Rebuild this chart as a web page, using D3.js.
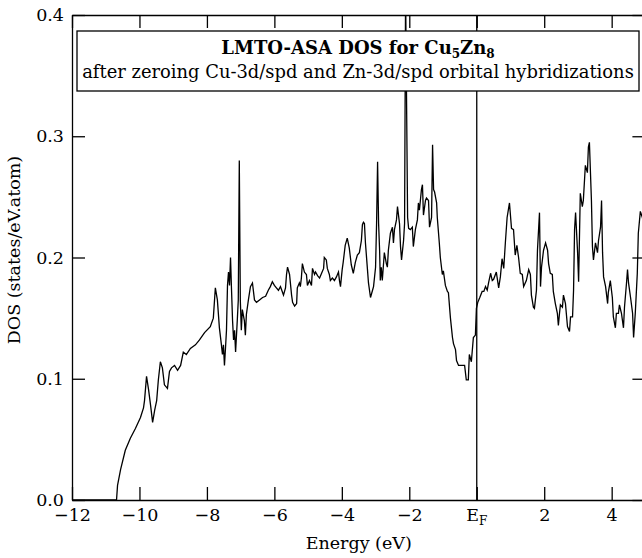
<!DOCTYPE html>
<html>
<head>
<meta charset="utf-8">
<script src="https://cdn.jsdelivr.net/npm/d3@7"></script>
<style>
  body { margin: 0; background: #fff; }
  text { font-family: "DejaVu Serif", "Liberation Serif", serif; }
</style>
</head>
<body>
<div id="chart-area"></div>
<script>
// energy (eV) and DOS (states/eV.atom)
var energy = [-12.0, -10.68, -10.65, -10.56, -10.42, -10.27, -10.12, -9.97, -9.88, -9.85,
  -9.79, -9.73, -9.67, -9.61, -9.55, -9.49, -9.44, -9.38, -9.32, -9.26,
  -9.17, -9.11, -9.05, -8.96, -8.87, -8.78, -8.70, -8.61, -8.49, -8.34,
  -8.22, -8.07, -7.90, -7.81, -7.75, -7.69, -7.63, -7.57, -7.54, -7.51,
  -7.48, -7.45, -7.42, -7.39, -7.36, -7.33, -7.30, -7.27, -7.24, -7.21,
  -7.18, -7.15, -7.10, -7.07, -7.04, -7.01, -6.98, -6.95, -6.89, -6.86,
  -6.83, -6.77, -6.71, -6.65, -6.59, -6.53, -6.44, -6.35, -6.26, -6.18,
  -6.12, -6.06, -6.00, -5.94, -5.88, -5.82, -5.73, -5.67, -5.64, -5.61,
  -5.55, -5.49, -5.46, -5.40, -5.34, -5.32, -5.26, -5.23, -5.20, -5.17,
  -5.11, -5.05, -5.02, -4.96, -4.90, -4.87, -4.81, -4.78, -4.72, -4.66,
  -4.60, -4.54, -4.52, -4.46, -4.43, -4.37, -4.34, -4.28, -4.22, -4.16,
  -4.10, -4.07, -4.04, -3.99, -3.96, -3.90, -3.84, -3.78, -3.72, -3.66,
  -3.60, -3.54, -3.48, -3.42, -3.39, -3.36, -3.33, -3.30, -3.24, -3.21,
  -3.15, -3.09, -3.06, -3.00, -2.97, -2.94, -2.91, -2.88, -2.86, -2.83,
  -2.80, -2.74, -2.68, -2.65, -2.62, -2.56, -2.50, -2.47, -2.44, -2.38,
  -2.35, -2.29, -2.26, -2.23, -2.17, -2.14, -2.11, -2.05, -2.02, -1.97,
  -1.91, -1.88, -1.82, -1.76, -1.73, -1.70, -1.64, -1.61, -1.58, -1.52,
  -1.49, -1.43, -1.40, -1.34, -1.31, -1.28, -1.25, -1.19, -1.17, -1.11,
  -1.08, -1.02, -0.99, -0.93, -0.87, -0.84, -0.78, -0.72, -0.69, -0.63,
  -0.60, -0.54, -0.45, -0.36, -0.31, -0.25, -0.22, -0.16, -0.10, -0.04,
  -0.01, 0.03, 0.09, 0.16, 0.21, 0.26, 0.31, 0.35, 0.41, 0.46,
  0.50, 0.58, 0.65, 0.70, 0.75, 0.80, 0.85, 0.90, 0.97, 1.03,
  1.09, 1.14, 1.19, 1.24, 1.29, 1.35, 1.39, 1.47, 1.54, 1.59,
  1.62, 1.68, 1.71, 1.77, 1.80, 1.86, 1.89, 1.92, 1.98, 2.01,
  2.04, 2.10, 2.13, 2.18, 2.24, 2.27, 2.33, 2.39, 2.42, 2.45,
  2.48, 2.54, 2.57, 2.63, 2.69, 2.75, 2.78, 2.84, 2.87, 2.90,
  2.93, 2.99, 3.02, 3.07, 3.13, 3.16, 3.22, 3.28, 3.31, 3.34,
  3.40, 3.43, 3.46, 3.52, 3.58, 3.61, 3.67, 3.70, 3.73, 3.76,
  3.82, 3.88, 3.90, 3.96, 4.02, 4.05, 4.11, 4.14, 4.20, 4.23,
  4.29, 4.35, 4.38, 4.44, 4.47, 4.50, 4.56, 4.62, 4.65, 4.70,
  4.76, 4.79, 4.85, 4.91, 5.0];

var dos = [0, 0, 0.012, 0.025, 0.041, 0.051, 0.059, 0.068, 0.076, 0.082,
  0.102, 0.091, 0.078, 0.064, 0.074, 0.082, 0.099, 0.114, 0.109, 0.095,
  0.092, 0.106, 0.109, 0.111, 0.107, 0.111, 0.122, 0.120, 0.125, 0.128,
  0.132, 0.138, 0.143, 0.150, 0.175, 0.165, 0.142, 0.128, 0.120, 0.128,
  0.111, 0.125, 0.140, 0.177, 0.188, 0.177, 0.200, 0.173, 0.148, 0.132,
  0.140, 0.122, 0.148, 0.165, 0.280, 0.165, 0.140, 0.157, 0.148, 0.136,
  0.153, 0.165, 0.176, 0.179, 0.165, 0.163, 0.165, 0.167, 0.168, 0.173,
  0.176, 0.180, 0.177, 0.175, 0.173, 0.176, 0.169, 0.175, 0.186, 0.192,
  0.186, 0.169, 0.163, 0.160, 0.162, 0.175, 0.179, 0.176, 0.183, 0.195,
  0.188, 0.186, 0.177, 0.181, 0.177, 0.191, 0.186, 0.188, 0.185, 0.183,
  0.187, 0.191, 0.200, 0.198, 0.191, 0.186, 0.181, 0.183, 0.181, 0.184,
  0.188, 0.181, 0.176, 0.190, 0.196, 0.210, 0.216, 0.208, 0.194, 0.187,
  0.196, 0.202, 0.204, 0.214, 0.227, 0.229, 0.228, 0.212, 0.190, 0.179,
  0.167, 0.173, 0.176, 0.192, 0.228, 0.279, 0.228, 0.206, 0.181, 0.192,
  0.181, 0.204, 0.195, 0.192, 0.206, 0.220, 0.225, 0.212, 0.223, 0.231,
  0.242, 0.228, 0.209, 0.198, 0.214, 0.228, 0.420, 0.233, 0.224, 0.223,
  0.225, 0.209, 0.223, 0.231, 0.245, 0.239, 0.256, 0.260, 0.235, 0.247,
  0.249, 0.247, 0.225, 0.233, 0.293, 0.256, 0.254, 0.245, 0.233, 0.212,
  0.200, 0.186, 0.189, 0.177, 0.172, 0.171, 0.150, 0.134, 0.129, 0.124,
  0.115, 0.111, 0.111, 0.111, 0.099, 0.099, 0.120, 0.114, 0.134, 0.136,
  0.158, 0.163, 0.167, 0.172, 0.172, 0.176, 0.173, 0.179, 0.187, 0.181,
  0.182, 0.188, 0.175, 0.184, 0.199, 0.191, 0.213, 0.233, 0.245, 0.224,
  0.223, 0.202, 0.210, 0.200, 0.187, 0.186, 0.176, 0.181, 0.190, 0.186,
  0.169, 0.159, 0.158, 0.173, 0.206, 0.237, 0.176, 0.192, 0.206, 0.209,
  0.212, 0.206, 0.195, 0.187, 0.186, 0.172, 0.162, 0.154, 0.144, 0.153,
  0.161, 0.159, 0.169, 0.162, 0.143, 0.139, 0.151, 0.151, 0.173, 0.223,
  0.237, 0.204, 0.180, 0.253, 0.242, 0.247, 0.276, 0.270, 0.291, 0.295,
  0.247, 0.209, 0.198, 0.212, 0.204, 0.214, 0.225, 0.247, 0.204, 0.184,
  0.176, 0.162, 0.171, 0.181, 0.167, 0.151, 0.142, 0.154, 0.154, 0.161,
  0.154, 0.142, 0.159, 0.179, 0.190, 0.179, 0.167, 0.154, 0.134, 0.154,
  0.187, 0.220, 0.238, 0.233, 0.220];

var xTicks = [-12, -10, -8, -6, -4, -2, 0, 2, 4];
var yTicks = [0.0, 0.1, 0.2, 0.3, 0.4];

var width = 642, height = 558;

var svg = d3.select("#chart-area").append("svg")
	.attr("width", width)
	.attr("height", height);

var x = d3.scaleLinear()
	.domain([-12, 5])
	.range([72, 645.4]);

var y = d3.scaleLinear()
	.domain([0, 0.4])
	.range([500, 15]);

svg.append("clipPath")
	.attr("id", "plot-clip")
	.append("rect")
	.attr("x", x(-12))
	.attr("y", y(0.4))
	.attr("width", x(5) - x(-12))
	.attr("height", y(0) - y(0.4));

// Fermi level line
svg.append("line")
	.attr("x1", x(0)).attr("x2", x(0))
	.attr("y1", y(0)).attr("y2", y(0.4))
	.attr("stroke", "#000")
	.attr("stroke-width", 1.3);

var points = energy.map((e, i) => [e, dos[i]]);

var line = d3.line()
	.x(d => x(d[0]))
	.y(d => y(d[1]));

svg.append("path")
	.datum(points)
	.attr("clip-path", "url(#plot-clip)")
	.attr("fill", "none")
	.attr("stroke", "#000")
	.attr("stroke-width", 1.3)
	.attr("d", line);

// axes, ticks pointing inward
var fontSize = 17.5;

var bottom = svg.append("g")
	.attr("transform", "translate(0," + y(0) + ")")
	.call(d3.axisBottom(x).tickValues(xTicks).tickSizeInner(-13).tickSizeOuter(0)
		.tickPadding(9).tickFormat(d => d === 0 ? "" : d3.format("d")(d)));

var top = svg.append("g")
	.attr("transform", "translate(0," + y(0.4) + ")")
	.call(d3.axisTop(x).tickValues(xTicks).tickSizeInner(-13).tickSizeOuter(0).tickFormat(""));

var left = svg.append("g")
	.attr("transform", "translate(" + x(-12) + ",0)")
	.call(d3.axisLeft(y).tickValues(yTicks).tickSizeInner(-13).tickSizeOuter(0)
		.tickPadding(8).tickFormat(d3.format(".1f")));

var right = svg.append("g")
	.attr("transform", "translate(" + x(5) + ",0)")
	.call(d3.axisRight(y).tickValues(yTicks).tickSizeInner(-13).tickSizeOuter(0).tickFormat(""));

svg.selectAll(".domain, .tick line")
	.attr("stroke", "#000")
	.attr("stroke-width", 1.3);

svg.selectAll(".tick text")
	.attr("font-family", "DejaVu Serif, Liberation Serif, serif")
	.attr("font-size", fontSize)
	.attr("fill", "#000");

// E_F label at zero
var ef = bottom.append("text")
	.attr("x", x(0))
	.attr("y", 9)
	.attr("dy", "0.71em")
	.attr("text-anchor", "middle")
	.attr("font-size", fontSize)
	.attr("fill", "#000");
ef.append("tspan").text("E");
ef.append("tspan").attr("font-size", 12).attr("dy", 4).text("F");

// axis titles
svg.append("text")
	.attr("x", (x(-12) + x(5)) / 2)
	.attr("y", 549)
	.attr("text-anchor", "middle")
	.attr("font-size", fontSize)
	.text("Energy (eV)");

svg.append("text")
	.attr("transform", "translate(20," + 250 + ") rotate(-90)")
	.attr("text-anchor", "middle")
	.attr("font-size", fontSize)
	.text("DOS (states/eV.atom)");

// title box
svg.append("rect")
	.attr("x", 77).attr("y", 31)
	.attr("width", 562).attr("height", 60)
	.attr("fill", "#fff")
	.attr("stroke", "#000")
	.attr("stroke-width", 1.3);

var t1 = svg.append("text")
	.attr("x", 358)
	.attr("y", 54)
	.attr("text-anchor", "middle")
	.attr("font-size", 18)
	.attr("font-weight", "bold");
t1.append("tspan").text("LMTO-ASA DOS for Cu");
t1.append("tspan").attr("font-size", 12).attr("dy", 4).text("5");
t1.append("tspan").attr("dy", -4).text("Zn");
t1.append("tspan").attr("font-size", 12).attr("dy", 4).text("8");

svg.append("text")
	.attr("x", 358)
	.attr("y", 78)
	.attr("text-anchor", "middle")
	.attr("font-size", 17.9)
	.text("after zeroing Cu-3d/spd and Zn-3d/spd orbital hybridizations");
</script>
</body>
</html>
